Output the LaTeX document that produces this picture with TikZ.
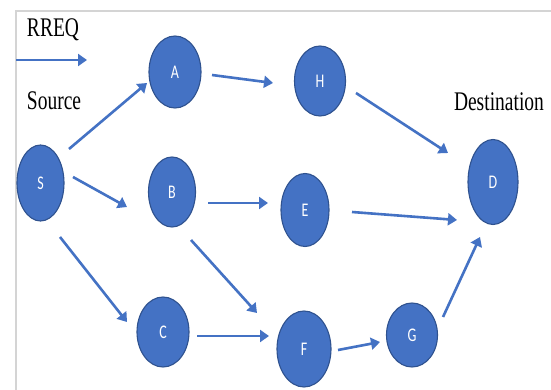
\documentclass[tikz,border=0pt]{standalone}
\usepackage{fontspec}
\setmainfont{Liberation Serif}
\newfontfamily\nodefont{Carlito}
\usetikzlibrary{shapes.geometric,arrows.meta,calc}

\definecolor{nodeblue}{HTML}{4472C4}
\definecolor{nodeedge}{HTML}{2F528F}
\definecolor{framegrey}{HTML}{D4D4D4}

\tikzset{
  peer/.style={ellipse, fill=nodeblue, draw=nodeedge, line width=1.1pt,
    inner sep=0pt, outer sep=0pt, text=white,
    font=\nodefont\fontsize{14}{14}\selectfont},
  link/.style={draw=nodeblue, line width=2.6pt,
    -{Triangle[length=9pt,width=12pt]}},
  caption/.style={anchor=base west, inner sep=0pt, outer sep=0pt,
    font=\fontsize{19.5}{20}\selectfont},
  frameline/.style={draw=framegrey, line width=2pt},
}
\newcommand{\tall}[1]{\scalebox{1}[1.38]{#1}}

\begin{document}
\begin{tikzpicture}[x=1pt, y=-1pt]
  \useasboundingbox[fill=white] (0,0) rectangle (551,390);

  % light frame (left and top edges)
  \coordinate (fbl) at (16,391);
  \coordinate (ftl) at (16,11);
  \coordinate (ftr) at (552,11);
  \draw[frameline] (fbl) -- (ftl) -- (ftr);

  % legend
  \node[caption] (rreq) at (27,37) {\tall{RREQ}};
  \coordinate (legA) at (16,60);
  \coordinate (legB) at (87,60);
  \draw[link] (legA) -- (legB);

  \node[caption] (src) at (27,110) {\tall{Source}};
  \node[caption] (dst) at (454,111) {\tall{Destination}};

  % network nodes
  \node[peer, minimum width=47pt, minimum height=76pt] (S) at (40.5,183) {\tall{S}};
  \node[peer, minimum width=52pt, minimum height=72pt] (A) at (175,72)   {\tall{A}};
  \node[peer, minimum width=51pt, minimum height=70pt] (H) at (320,81)   {\tall{H}};
  \node[peer, minimum width=47pt, minimum height=70pt] (B) at (172,192)  {\tall{B}};
  \node[peer, minimum width=48pt, minimum height=73pt] (E) at (305,210)  {\tall{E}};
  \node[peer, minimum width=50pt, minimum height=85pt] (D) at (493,182)  {\tall{D}};
  \node[peer, minimum width=52pt, minimum height=70pt] (C) at (163,332)  {\tall{C}};
  \node[peer, minimum width=54pt, minimum height=76pt] (F) at (304,349)  {\tall{F}};
  \node[peer, minimum width=51pt, minimum height=64pt] (G) at (412,335)  {\tall{G}};

  % request flooding
  \draw[link] ($(S)+(28.5,-34)$) -- ($(A)+(-28,11)$);
  \draw[link] ($(S)+(32.5,-6)$)  -- ($(B)+(-45,15)$);
  \draw[link] ($(S)+(19.5,54)$)  -- ($(C)+(-36,-10)$);
  \draw[link] ($(A)+(37,3)$)     -- ($(H)+(-47,2)$);
  \draw[link] ($(H)+(36,12)$)    -- ($(D)+(-45,-29)$);
  \draw[link] ($(B)+(36,11)$)    -- ($(E)+(-37,-7)$);
  \draw[link] ($(E)+(47,2)$)     -- ($(D)+(-36,38)$);
  \draw[link] ($(B)+(19,48)$)    -- ($(F)+(-47,-36)$);
  \draw[link] ($(C)+(34,4)$)     -- ($(F)+(-35,-13)$);
  \draw[link] ($(F)+(34,1)$)     -- ($(G)+(-32,7)$);
  \draw[link] ($(G)+(31,-18)$)   -- ($(D)+(-13,55)$);
\end{tikzpicture}
\end{document}
